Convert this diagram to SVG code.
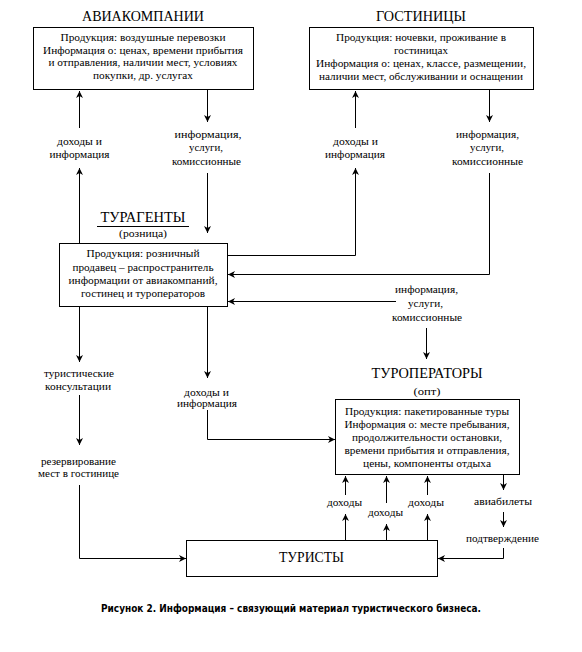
<svg xmlns="http://www.w3.org/2000/svg" width="582" height="652" viewBox="0 0 582 652">
<style>
.bx{fill:#fff;stroke:#000;stroke-width:1}
.t{font-size:11px;fill:#000;text-anchor:middle}
.h{font-size:14px;fill:#000;text-anchor:middle}
.c{fill:none;stroke:#000;stroke-width:1}
.cap{font-family:'DejaVu Sans Condensed','DejaVu Sans',sans-serif;font-weight:bold;font-size:10px;fill:#000}
</style>
<defs>
<marker id="a" markerUnits="userSpaceOnUse" markerWidth="9" markerHeight="8" refX="7" refY="3.5" orient="auto">
<path d="M0,0 L7,3.5 L0,7 L2,3.5 z" fill="#000"/>
</marker>
</defs>
<rect width="582" height="652" fill="#fff"/>
<g font-family="Liberation Serif, serif">
<g id="aviakompanii">
<text class="h" x="143" y="21" textLength="122" lengthAdjust="spacingAndGlyphs">АВИАКОМПАНИИ</text>
<rect class="bx" x="33.5" y="27.5" width="220" height="62"/>
<text class="t" x="143" y="41" textLength="165" lengthAdjust="spacingAndGlyphs">Продукция: воздушные перевозки</text>
<text class="t" x="143" y="54" textLength="200" lengthAdjust="spacingAndGlyphs">Информация о: ценах, времени прибытия</text>
<text class="t" x="143" y="66" textLength="189" lengthAdjust="spacingAndGlyphs">и отправления, наличии мест, условиях</text>
<text class="t" x="143" y="79" textLength="100" lengthAdjust="spacingAndGlyphs">покупки, др. услугах</text>
</g>

<g id="gostinicy">
<text class="h" x="421" y="21" textLength="90" lengthAdjust="spacingAndGlyphs">ГОСТИНИЦЫ</text>
<rect class="bx" x="309.5" y="27.5" width="224" height="62"/>
<text class="t" x="421" y="41" textLength="170" lengthAdjust="spacingAndGlyphs">Продукция: ночевки, проживание в</text>
<text class="t" x="421" y="54" textLength="54" lengthAdjust="spacingAndGlyphs">гостиницах</text>
<text class="t" x="421" y="67" textLength="210" lengthAdjust="spacingAndGlyphs">Информация о: ценах, классе, размещении,</text>
<text class="t" x="421" y="80" textLength="204" lengthAdjust="spacingAndGlyphs">наличии мест, обслуживании и оснащении</text>
</g>

<g id="turagenty">
<text class="h" x="143" y="222" textLength="85" lengthAdjust="spacingAndGlyphs">ТУРАГЕНТЫ</text>
<line class="c" x1="97" y1="226.5" x2="189" y2="226.5"/>
<text class="t" x="143" y="237" textLength="48" lengthAdjust="spacingAndGlyphs">(розница)</text>
<rect class="bx" x="59.5" y="243.5" width="168" height="63"/>
<text class="t" x="143" y="257" textLength="113" lengthAdjust="spacingAndGlyphs">Продукция: розничный</text>
<text class="t" x="143" y="271" textLength="141" lengthAdjust="spacingAndGlyphs">продавец – распространитель</text>
<text class="t" x="143" y="284" textLength="149" lengthAdjust="spacingAndGlyphs">информации от авиакомпаний,</text>
<text class="t" x="143" y="297" textLength="124" lengthAdjust="spacingAndGlyphs">гостинец и туроператоров</text>
</g>

<g id="turoperatory">
<text class="h" x="427" y="378" textLength="111" lengthAdjust="spacingAndGlyphs">ТУРОПЕРАТОРЫ</text>
<text class="t" x="427" y="395" textLength="27" lengthAdjust="spacingAndGlyphs">(опт)</text>
<rect class="bx" x="335.5" y="399.5" width="184" height="75"/>
<text class="t" x="427" y="415" textLength="164" lengthAdjust="spacingAndGlyphs">Продукция: пакетированные туры</text>
<text class="t" x="427" y="428" textLength="165" lengthAdjust="spacingAndGlyphs">Информация о: месте пребывания,</text>
<text class="t" x="427" y="441" textLength="150" lengthAdjust="spacingAndGlyphs">продолжительности остановки,</text>
<text class="t" x="427" y="454" textLength="165" lengthAdjust="spacingAndGlyphs">времени прибытия и отправления,</text>
<text class="t" x="427" y="467" textLength="128" lengthAdjust="spacingAndGlyphs">цены, компоненты отдыха</text>
</g>

<g id="turisty">
<rect class="bx" x="186.5" y="540.5" width="251" height="36"/>
<text class="h" x="311.5" y="562" textLength="65" lengthAdjust="spacingAndGlyphs">ТУРИСТЫ</text>
</g>

<g id="connectors">
<path class="c" d="M79.5,128 V91" marker-end="url(#a)"/>
<path class="c" d="M79.5,243 V168" marker-end="url(#a)"/>
<path class="c" d="M207.5,90 V122" marker-end="url(#a)"/>
<path class="c" d="M207.5,173 V233" marker-end="url(#a)"/>
<path class="c" d="M355.5,128 V91" marker-end="url(#a)"/>
<path class="c" d="M228,255.5 H355.5 V168" marker-end="url(#a)"/>
<path class="c" d="M489.5,90 V122" marker-end="url(#a)"/>
<path class="c" d="M489.5,173 V274.5 H228" marker-end="url(#a)"/>
<path class="c" d="M396,301.5 H228" marker-end="url(#a)"/>
<path class="c" d="M426.5,328 V359" marker-end="url(#a)"/>
<path class="c" d="M79.5,307 V362" marker-end="url(#a)"/>
<path class="c" d="M79.5,395 V445" marker-end="url(#a)"/>
<path class="c" d="M79.5,485 V558.5 H186" marker-end="url(#a)"/>
<path class="c" d="M207.5,307 V378" marker-end="url(#a)"/>
<path class="c" d="M207.5,410 V439.5 H335" marker-end="url(#a)"/>
<path class="c" d="M345.5,540 V514" marker-end="url(#a)"/>
<path class="c" d="M345.5,495 V476" marker-end="url(#a)"/>
<path class="c" d="M386.5,540 V524" marker-end="url(#a)"/>
<path class="c" d="M386.5,503 V476" marker-end="url(#a)"/>
<path class="c" d="M427.5,540 V514" marker-end="url(#a)"/>
<path class="c" d="M427.5,495 V476" marker-end="url(#a)"/>
<path class="c" d="M503.5,475 V490" marker-end="url(#a)"/>
<path class="c" d="M503.5,512 V527" marker-end="url(#a)"/>
<path class="c" d="M503.5,548 V558.5 H438" marker-end="url(#a)"/>
</g>

<g id="labels">
<text class="t" x="79.5" y="145" textLength="45" lengthAdjust="spacingAndGlyphs">доходы и</text>
<text class="t" x="79.5" y="158" textLength="60" lengthAdjust="spacingAndGlyphs">информация</text>
<text class="t" x="208" y="138" textLength="67" lengthAdjust="spacingAndGlyphs">информация,</text>
<text class="t" x="206" y="151" textLength="34" lengthAdjust="spacingAndGlyphs">услуги,</text>
<text class="t" x="206.5" y="165" textLength="69" lengthAdjust="spacingAndGlyphs">комиссионные</text>

<text class="t" x="355.5" y="145" textLength="45" lengthAdjust="spacingAndGlyphs">доходы и</text>
<text class="t" x="355" y="158" textLength="60" lengthAdjust="spacingAndGlyphs">информация</text>
<text class="t" x="487.5" y="138" textLength="63" lengthAdjust="spacingAndGlyphs">информация,</text>
<text class="t" x="487" y="151" textLength="34" lengthAdjust="spacingAndGlyphs">услуги,</text>
<text class="t" x="487.5" y="165" textLength="71" lengthAdjust="spacingAndGlyphs">комиссионные</text>

<text class="t" x="426.5" y="293" textLength="63" lengthAdjust="spacingAndGlyphs">информация,</text>
<text class="t" x="425.5" y="307" textLength="35" lengthAdjust="spacingAndGlyphs">услуги,</text>
<text class="t" x="427" y="321" textLength="70" lengthAdjust="spacingAndGlyphs">комиссионные</text>

<text class="t" x="79" y="377" textLength="70" lengthAdjust="spacingAndGlyphs">туристические</text>
<text class="t" x="78" y="390" textLength="66" lengthAdjust="spacingAndGlyphs">консультации</text>
<text class="t" x="78.5" y="465" textLength="75" lengthAdjust="spacingAndGlyphs">резервирование</text>
<text class="t" x="78.5" y="477" textLength="81" lengthAdjust="spacingAndGlyphs">мест в гостинице</text>

<text class="t" x="206.5" y="396" textLength="45" lengthAdjust="spacingAndGlyphs">доходы и</text>
<text class="t" x="207" y="407" textLength="60" lengthAdjust="spacingAndGlyphs">информация</text>

<text class="t" x="344.5" y="506" textLength="35" lengthAdjust="spacingAndGlyphs">доходы</text>
<text class="t" x="385.5" y="516" textLength="35" lengthAdjust="spacingAndGlyphs">доходы</text>
<text class="t" x="426" y="506" textLength="36" lengthAdjust="spacingAndGlyphs">доходы</text>
<text class="t" x="503" y="505" textLength="58" lengthAdjust="spacingAndGlyphs">авиабилеты</text>
<text class="t" x="502.5" y="542" textLength="73" lengthAdjust="spacingAndGlyphs">подтверждение</text>
</g>
</g>
<text class="cap" x="101" y="612" textLength="380" lengthAdjust="spacingAndGlyphs">Рисунок 2. Информация – связующий материал туристического бизнеса.</text>
</svg>
